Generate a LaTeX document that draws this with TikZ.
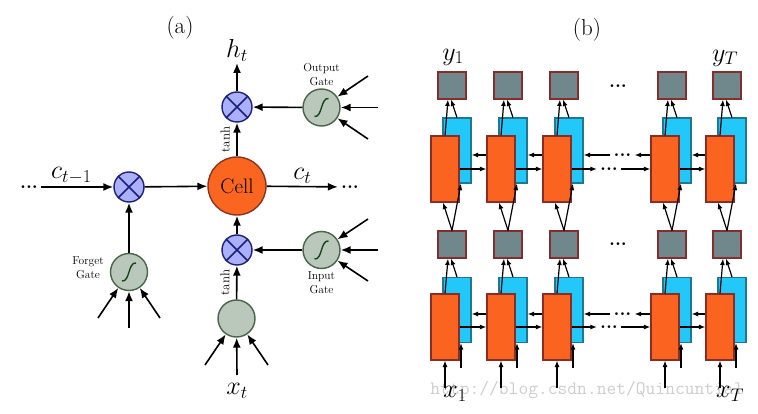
\RequirePackage{fix-cm}
\documentclass[tikz,border=0pt]{standalone}
\usepackage{amsmath}
\usetikzlibrary{calc}
\usetikzlibrary{arrows.meta}

\definecolor{multfill}{RGB}{170,176,250}
\definecolor{multline}{RGB}{30,30,125}
\definecolor{gatefill}{RGB}{185,200,186}
\definecolor{gateline}{RGB}{72,100,74}
\definecolor{sigline}{RGB}{20,70,25}
\definecolor{cellfill}{RGB}{250,102,32}
\definecolor{cellline}{RGB}{140,50,30}
\definecolor{outfill}{RGB}{112,135,140}
\definecolor{outline}{RGB}{135,45,45}
\definecolor{bwdfill}{RGB}{35,200,250}
\definecolor{bwdline}{RGB}{30,120,145}
\definecolor{fwdfill}{RGB}{250,100,32}
\definecolor{fwdline}{RGB}{140,45,35}
\definecolor{wmark}{RGB}{205,205,205}

\begin{document}
\begin{tikzpicture}[x=1pt, y=-1pt,
    arr/.style={line width=1.6pt, -{Latex[length=10pt, width=8pt]}},
    barr/.style={line width=1.2pt, -{Latex[length=6.5pt, width=5pt]}},
    mult/.style={circle, draw=multline, fill=multfill, line width=1.4pt, minimum size=30pt, inner sep=0pt},
    gate/.style={circle, draw=gateline, fill=gatefill, line width=1.4pt, minimum size=37pt, inner sep=0pt},
    cellnode/.style={circle, draw=cellline, fill=cellfill, line width=1.4pt, minimum size=58pt, inner sep=0pt, font=\fontsize{21}{23}\selectfont},
    mathlabel/.style={font=\fontsize{26}{28}\selectfont, inner sep=2pt},
    gatelabel/.style={font=\fontsize{11.5}{14}\selectfont, align=center, inner sep=1pt},
    tanhlabel/.style={font=\fontsize{13}{14}\selectfont, inner sep=6.5pt},
    paneltitle/.style={font=\fontsize{23}{25}\selectfont},
    ellip/.style={font=\bfseries\fontsize{19}{20}\selectfont, text height=2.6pt, text depth=0pt, inner ysep=0pt, inner xsep=3pt},
    outbox/.style={draw=outline, fill=outfill, line width=1.1pt, minimum width=28pt, minimum height=27pt, inner sep=0pt},
    bwdbox/.style={draw=bwdline, fill=bwdfill, line width=1.1pt, minimum width=28pt, minimum height=65pt, inner sep=0pt},
    fwdbox/.style={draw=fwdline, fill=fwdfill, line width=1.1pt, minimum width=28pt, minimum height=66pt, inner sep=0pt},
    wm/.style={font=\ttfamily\fontsize{19}{20}\selectfont, text=wmark},
  ]
    \useasboundingbox (0,0) rectangle (758,414);

    % (a) one LSTM cell
    \node[paneltitle] (ta) at (180,28) {(a)};
    \node[mult] (mF) at (129,187) {};
    \node[mult] (mO) at (237,107) {};
    \node[mult] (mI) at (237,250) {};
    \foreach \m in {mF,mO,mI} {
      \draw[multline, line width=1.5pt] (\m.45) -- (\m.225) (\m.135) -- (\m.315);
    }
    \node[gate] (gF) at (129,272) {};
    \node[gate] (gO) at (321.5,107.5) {};
    \node[gate] (gI) at (321.5,250) {};
    \foreach \g in {gF,gO,gI} {
      \draw[sigline, line width=1.4pt, shift={(\g)}] (-7,9) .. controls (1,10) and (-1,-10) .. (7,-9);
    }
    \node[gate] (tanhIn) at (236.5,318.5) {};
    \node[cellnode] (cell) at (237,186) {Cell};
    \node[gatelabel] (lF) at (88,268) {Forget\\Gate};
    \node[gatelabel] (lO) at (321.5,75) {Output\\Gate};
    \node[gatelabel] (lI) at (321.5,283) {Input\\Gate};

    % cell state
    \node[ellip] (dL) at (29,187) {...};
    \node[ellip] (dR) at (350,187) {...};
    \draw[arr] (dL) -- node[mathlabel, above, pos=0.42] {$c_{t-1}$} (mF);
    \draw[arr] (mF) -- (cell);
    \draw[arr] (cell) -- node[mathlabel, above] {$c_t$} (dR);

    % output side
    \draw[arr] (cell) -- node[tanhlabel, above, sloped] {tanh} (mO);
    \coordinate (hTop) at (237,63);
    \draw[arr] (mO) -- (hTop) node[mathlabel, above=-1pt] {$h_t$};
    \draw[arr] (gO) -- (mO);
    \coordinate (o1) at (368,76);
    \coordinate (o2) at (378,107.5);
    \coordinate (o3) at (368,139);
    \foreach \c in {o1,o2,o3} \draw[arr] (\c) -- (gO);

    % input side
    \draw[arr] (mI) -- (cell);
    \draw[arr] (tanhIn) -- node[tanhlabel, above, sloped] {tanh} (mI);
    \draw[arr] (gI) -- (mI);
    \coordinate (i1) at (368,219);
    \coordinate (i2) at (378,250);
    \coordinate (i3) at (368,281);
    \foreach \c in {i1,i2,i3} \draw[arr] (\c) -- (gI);
    \coordinate (t1) at (205,365);
    \coordinate (t2) at (237,375);
    \coordinate (t3) at (268,365);
    \foreach \c in {t1,t2,t3} \draw[arr] (\c) -- (tanhIn);
    \node[mathlabel, below=6pt] (xt) at (t2) {$x_t$};

    % forget side
    \draw[arr] (gF) -- (mF);
    \coordinate (f1) at (98,318);
    \coordinate (f2) at (129,328);
    \coordinate (f3) at (160,318);
    \foreach \c in {f1,f2,f3} \draw[arr] (\c) -- (gF);

    % (b) stacked bidirectional layers
    \node[wm] (wmark) at (587,390) {http://blog.csdn.net/Quincuntial};
    \node[paneltitle] (tb) at (587,30) {(b)};
    \foreach \i/\x in {1/452,2/508,3/564,4/672,5/727} {
      \node[outbox] (ug\i) at (\x,85.5) {};
      \node[bwdbox] (ub\i) at (\x+5,150.5) {};
      \node[fwdbox] (uf\i) at (\x-7,169) {};
      \node[outbox] (lg\i) at (\x,244.5) {};
      \node[bwdbox] (lb\i) at (\x+5,310) {};
      \node[fwdbox] (lf\i) at (\x-7,327) {};
    }
    \foreach \i in {1,...,5} {
      \draw[barr] (uf\i.north) -- ([xshift=-4pt]ug\i.south);
      \draw[barr] (ub\i.north) -- ([xshift=-1pt]ug\i.south);
      \draw[barr] (lg\i.north) -- ([xshift=-2pt]uf\i.south);
      \draw[barr] (lg\i.north) -- ([xshift=4pt]ub\i.south);
      \draw[barr] (lf\i.north) -- ([xshift=-4pt]lg\i.south);
      \draw[barr] (lb\i.north) -- ([xshift=-1pt]lg\i.south);
      \coordinate (xf\i) at ($(lf\i.south)+(0,27)$);
      \coordinate (xb\i) at ($(lb\i.south)+(4,25)$);
      \draw[barr] (xf\i) -- (lf\i.south);
      \draw[barr] (xb\i) -- ([xshift=4pt]lb\i.south);
    }
    \foreach \a/\b in {1/2,2/3,4/5} {
      \draw[barr] (uf\a) -- (uf\b);
      \draw[barr] ([yshift=14pt]uf\b.west) coordinate (t) -- (t -| ub\a.east);
      \draw[barr] (lf\a) -- (lf\b);
      \draw[barr] ([yshift=13pt]lf\b.west) coordinate (t) -- (t -| lb\a.east);
    }
    \node[ellip] (udR) at (609,169) {...};
    \node[ellip] (udL) at (622.5,155) {...};
    \draw[barr] (uf3) -- (udR);
    \draw[barr] (udR) -- (uf4);
    \draw[barr] (udL -| uf4.west) -- (udL);
    \draw[barr] (udL) -- (udL -| ub3.east);
    \node[ellip] (ldR) at (609,327) {...};
    \node[ellip] (ldL) at (622.5,314) {...};
    \draw[barr] (lf3) -- (ldR);
    \draw[barr] (ldR) -- (lf4);
    \draw[barr] (ldL -| lf4.west) -- (ldL);
    \draw[barr] (ldL) -- (ldL -| lb3.east);
    \node[ellip] (udots) at (618,86) {...};
    \node[ellip] (ldots) at (618,244) {...};
    \node[mathlabel] (y1) at (453,57) {$y_1$};
    \node[mathlabel] (yT) at (725,58) {$y_T$};
    \node[mathlabel] (x1) at (455,394) {$x_1$};
    \node[mathlabel] (xT) at (730,394) {$x_T$};
  \end{tikzpicture}
\end{document}
